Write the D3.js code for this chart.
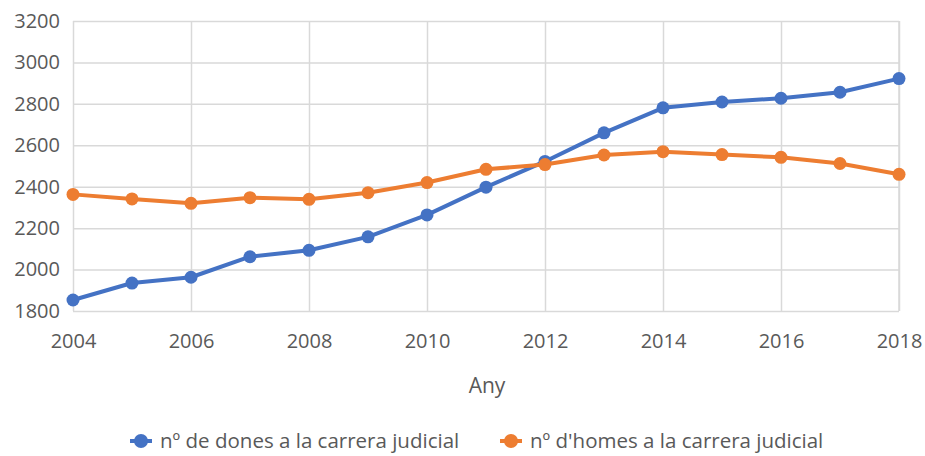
<!DOCTYPE html>
<meta charset="utf-8">
<head>
<script src="https://d3js.org/d3.v7.min.js"></script>
<style>
body { margin: 0; background: #fff; }
text { font-family: "Open Sans", sans-serif; fill: #595959; }
.grid line { stroke: #d9d9d9; stroke-width: 1.5; }
.grid path { display: none; }
</style>
</head>
<body>
<script>

// data
var years = [2004, 2005, 2006, 2007, 2008, 2009, 2010, 2011, 2012, 2013, 2014, 2015, 2016, 2017, 2018];
var dones = [1853, 1935, 1963, 2062, 2093, 2158, 2264, 2398, 2522, 2660, 2781, 2809, 2827, 2856, 2922];
var homes = [2363, 2341, 2320, 2347, 2339, 2371, 2420, 2484, 2507, 2553, 2569, 2555, 2542, 2512, 2460];
var xTicks = [2004, 2006, 2008, 2010, 2012, 2014, 2016, 2018];
var yTicks = [1800, 2000, 2200, 2400, 2600, 2800, 3000, 3200];
var seriesNames = ["nº de dones a la carrera judicial", "nº d'homes a la carrera judicial"];
var colors = ["#4472c4", "#ed7d31"];

var margin = {top: 21, right: 26, bottom: 145, left: 73},
    width = 925 - margin.left - margin.right,
    height = 456 - margin.top - margin.bottom;

var svg = d3.select("body").append("svg")
    .attr("width", 925)
    .attr("height", 456)
  .append("g")
    .attr("transform", "translate(" + margin.left + "," + margin.top + ")");

var x = d3.scaleLinear().domain([2004, 2018]).range([0, width]);
var y = d3.scaleLinear().domain([1800, 3200]).range([height, 0]);

// gridlines
svg.append("g")
    .attr("class", "grid")
    .call(d3.axisLeft(y).tickValues(yTicks).tickSize(-width).tickFormat(""));
svg.append("g")
    .attr("class", "grid")
    .attr("transform", "translate(0," + height + ")")
    .call(d3.axisBottom(x).tickValues(xTicks).tickSize(-height).tickFormat(""));
svg.append("line")
    .attr("x1", width).attr("x2", width)
    .attr("y1", 0).attr("y2", height)
    .attr("stroke", "#d9d9d9").attr("stroke-width", 1.5);

// tick labels
var yAxis = svg.append("g")
    .call(d3.axisLeft(y).tickValues(yTicks).tickSize(0).tickPadding(13).tickFormat(d3.format("d")));
yAxis.select(".domain").remove();
yAxis.selectAll("text").style("font-size", "20px").attr("fill", "#595959");

var xAxis = svg.append("g")
    .attr("transform", "translate(0," + height + ")")
    .call(d3.axisBottom(x).tickValues(xTicks).tickSize(0).tickPadding(23).tickFormat(d3.format("d")));
xAxis.select(".domain").remove();
xAxis.selectAll("text").style("font-size", "20px").attr("fill", "#595959");

// axis title
svg.append("text")
    .attr("x", width / 2 + 1)
    .attr("y", height + 82)
    .attr("text-anchor", "middle")
    .style("font-size", "21px")
    .text("Any");

// lines
var allSeries = [dones, homes];
var line = d3.line()
    .x(function(d, i) { return x(years[i]); })
    .y(function(d) { return y(d); });

allSeries.forEach(function(vals, s) {
  svg.append("path")
      .datum(vals)
      .attr("fill", "none")
      .attr("stroke", colors[s])
      .attr("stroke-width", 4)
      .attr("stroke-linejoin", "round")
      .attr("d", line);
  svg.selectAll(".dot" + s)
      .data(vals)
    .enter().append("circle")
      .attr("cx", function(d, i) { return x(years[i]); })
      .attr("cy", function(d) { return y(d); })
      .attr("r", 6.5)
      .attr("fill", colors[s]);
});

// legend
var legend = svg.append("g")
    .attr("transform", "translate(0," + (height + 130) + ")");
var legX = [68, 438];
seriesNames.forEach(function(name, s) {
  var g = legend.append("g").attr("transform", "translate(" + legX[s] + ",0)");
  g.append("line")
      .attr("x1", -11).attr("x2", 11)
      .attr("stroke", colors[s]).attr("stroke-width", 4);
  g.append("circle").attr("r", 7).attr("fill", colors[s]);
  g.append("text")
      .attr("x", 19)
      .attr("dy", "0.35em")
      .style("font-size", "20.5px")
      .text(name);
});

</script>
</body>
